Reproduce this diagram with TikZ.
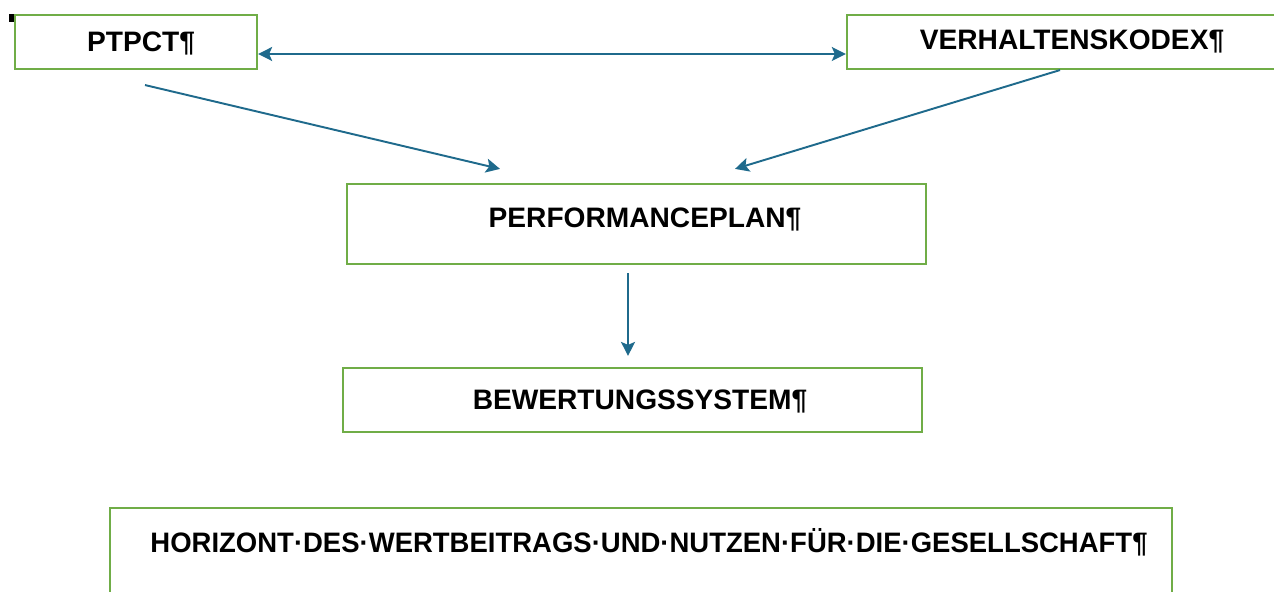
\documentclass[tikz,border=0pt]{standalone}
\usepackage{fontspec}
\setmainfont{Liberation Sans}
\usetikzlibrary{arrows.meta}
\definecolor{boxgreen}{HTML}{70AD47}
\definecolor{arrowblue}{HTML}{1F6A8C}
\tikzset{
	box/.style={draw=boxgreen, line width=0.6pt, inner sep=0pt},
	lbl/.style={font=\fontsize{8}{9.6}\selectfont\bfseries, inner sep=0pt, anchor=base},
	tip/.style={Stealth[length=1.4mm, width=1.4mm, inset=0.3mm]},
	flow/.style={draw=arrowblue, line width=0.55pt, -{Stealth[length=1.4mm, width=1.4mm, inset=0.3mm]}},
}
\begin{document}
\begin{tikzpicture}[x=0.01cm, y=-0.01cm]
			\useasboundingbox (0,0) rectangle (1274,592);

			% boxes
			\node[box, minimum width=2.42cm, minimum height=0.54cm] (ptpct) at (136,42) {};
			\node[box, minimum width=4.33cm, minimum height=0.54cm] (verh) at (1063.5,42) {};
			\node[box, minimum width=5.79cm, minimum height=0.80cm] (perf) at (636.5,224) {};
			\node[box, minimum width=5.79cm, minimum height=0.64cm] (bew) at (632.5,400) {};
			\node[box, minimum width=10.62cm, minimum height=1.0cm] (hor) at (641,558) {};

			% texts
			\node[lbl] (ptpcttxt) at (141,52) {PTPCT¶};
			\node[lbl] (verhtxt) at (1072,50) {VERHALTENSKODEX¶};
			\node[lbl] (perftxt) at (645,228) {PERFORMANCEPLAN¶};
			\node[lbl] (bewtxt) at (640,410) {BEWERTUNGSSYSTEM¶};
			\node[lbl, xscale=0.977, transform shape] (hortxt) at (649,553) {HORIZONT·DES·WERTBEITRAGS·UND·NUTZEN·FÜR·DIE·GESELLSCHAFT¶};

			\fill (9,14) rectangle (14,22);

			% arrows
			\draw[flow, {Stealth[length=1.4mm, width=1.4mm, inset=0.3mm]}-{Stealth[length=1.4mm, width=1.4mm, inset=0.3mm]}] ([yshift=-1.2mm]ptpct.east) -- ([yshift=-1.2mm]verh.west);
			\draw[flow] ([shift={(9,15)}]ptpct.south) -- ([shift={(-136.5,-14)}]perf.north);
			\draw[flow] ([shift={(-3.5,0)}]verh.south) -- ([shift={(98.5,-14)}]perf.north);
			\draw[flow] ([shift={(-8.5,8)}]perf.south) -- ([shift={(-4.5,-11)}]bew.north);

		\end{tikzpicture}
\end{document}
